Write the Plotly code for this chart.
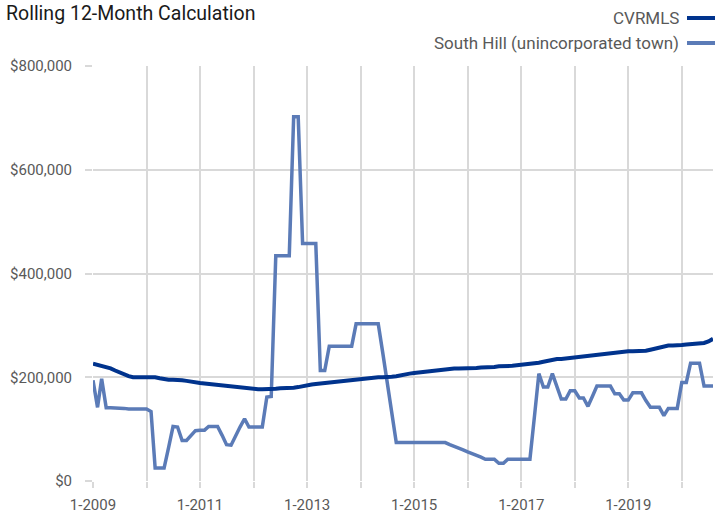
import pandas as pd
import plotly.graph_objects as go

# Monthly data, Jan 2009 onward (values in thousands of dollars)
start_month = "2009-01-01"
cvrmls_k = [226, 224, 222, 220, 217, 213, 209, 205, 202, 200, 200, 200, 200, 200, 200, 198, 196, 195, 195, 195,
            194, 193, 191, 190, 189, 188, 187, 186, 185, 184, 183, 182, 181, 180, 179, 178, 178, 177, 177, 177,
            178, 178, 179, 179, 179, 180, 181, 183, 185, 186, 187, 188, 189, 190, 191, 192, 193, 194, 196, 197,
            198, 199, 200, 200, 200, 200, 200, 201, 202, 204, 206, 207, 208, 209, 210, 211, 212, 214, 215, 216,
            216, 217, 217, 217, 218, 218, 218, 219, 219, 220, 220, 221, 221, 221, 222, 223, 224, 225, 225, 226,
            228, 230, 232, 234, 235, 235, 236, 237, 238, 239, 240, 241, 242, 244, 244, 245, 246, 247, 249, 250,
            250, 250, 250, 250, 251, 253, 255, 257, 259, 261, 261, 261, 262, 263, 264, 265, 265, 266, 269, 274]
south_hill_k = [194, 142, 197, 141, 141, 141, 141, 140, 139, 139, 139, 139, 139, 134, 25, 25, 25, 65, 105, 104,
                78, 78, 88, 97, 98, 98, 105, 105, 105, 88, 70, 69, 88, 104, 120, 104, 104, 104, 104, 162,
                163, 434, 434, 434, 434, 702, 702, 458, 458, 458, 458, 213, 213, 260, 260, 260, 260, 260, 260, 303,
                303, 303, 303, 303, 303, 247, 190, 132, 74, 74, 74, 74, 74, 74, 74, 74, 74, 74, 74, 74,
                70, 67, 63, 60, 56, 53, 49, 46, 42, 42, 42, 34, 34, 42, 42, 42, 42, 42, 42, 125,
                207, 181, 181, 207, 182, 158, 158, 174, 174, 160, 160, 144, 163, 183, 183, 183, 183, 168, 168, 156,
                156, 170, 170, 170, 155, 142, 142, 142, 126, 140, 140, 140, 190, 190, 227, 227, 227, 183, 183, 183]

series_names = ["CVRMLS", "South Hill (unincorporated town)"]
series_colors = ["#00338d", "#5b7bb7"]
title_text = "Rolling 12-Month Calculation"

dates = pd.date_range(start_month, periods=len(cvrmls_k), freq="MS")
cvrmls = [v * 1000 for v in cvrmls_k]
south_hill = [v * 1000 for v in south_hill_k]

W, H = 715, 515
ML, MR, MT, MB = 93, 2, 66, 34
FONT = "Roboto, Liberation Sans, sans-serif"
GRID = "#d9d9d9"

fig = go.Figure()
fig.add_trace(go.Scatter(x=dates, y=south_hill, mode="lines", name=series_names[1],
                         line=dict(color=series_colors[1], width=3.5)))
fig.add_trace(go.Scatter(x=dates, y=cvrmls, mode="lines", name=series_names[0],
                         line=dict(color=series_colors[0], width=4)))

fig.update_layout(
    width=W, height=H,
    margin=dict(l=ML, r=MR, t=MT, b=MB),
    paper_bgcolor="white", plot_bgcolor="white",
    showlegend=False,
    font=dict(family=FONT, size=15, color="#595959"),
    title=dict(text=title_text, x=6 / W, xanchor="left", xref="container",
               y=1 - 13 / H, yanchor="middle", yref="container",
               font=dict(family=FONT, size=19.5, color="#1a1a1a")),
    xaxis=dict(type="date", range=[dates[0], dates[-1]], dtick="M24", tick0=start_month,
               tickformat="%-m-%Y", showgrid=True, gridcolor=GRID, gridwidth=2,
               ticks="outside", ticklen=6, tickcolor=GRID, tickwidth=2,
               ticklabelstandoff=4,
               minor=dict(dtick="M12", showgrid=True, gridcolor=GRID, gridwidth=2,
                          ticks="outside", ticklen=6, tickcolor=GRID, tickwidth=2),
               showline=False, zeroline=False,
               tickfont=dict(family=FONT, size=15, color="#595959")),
    yaxis=dict(range=[0, 800000], dtick=200000, tickformat="$,.0f",
               showgrid=True, gridcolor=GRID, gridwidth=2,
               ticks="outside", ticklen=7, tickcolor=GRID, tickwidth=2,
               ticklabelstandoff=10,
               showline=False, zeroline=False,
               tickfont=dict(family=FONT, size=15, color="#595959")),
)

# legend drawn as text followed by a line sample (sample on the right, as in the reference)
legend_y = [18, 43]
pw, ph = W - ML - MR, H - MT - MB
for i, (name, col) in enumerate(zip(series_names, series_colors)):
    ypp = ((H - legend_y[i]) - MB) / ph
    fig.add_annotation(text=name, xref="paper", yref="paper",
                       x=(681 - ML) / pw, y=ypp,
                       xanchor="right", yanchor="middle", showarrow=False,
                       font=dict(family=FONT, size=17, color="#595959"))
    fig.add_shape(type="line", xref="paper", yref="paper",
                  x0=(687 - ML) / pw, x1=(715 - ML) / pw, y0=ypp, y1=ypp,
                  line=dict(color=col, width=4))

fig.write_html("out.html", config={"displayModeBar": False},
               post_script="document.body.style.margin='0';document.body.style.overflow='hidden';")
